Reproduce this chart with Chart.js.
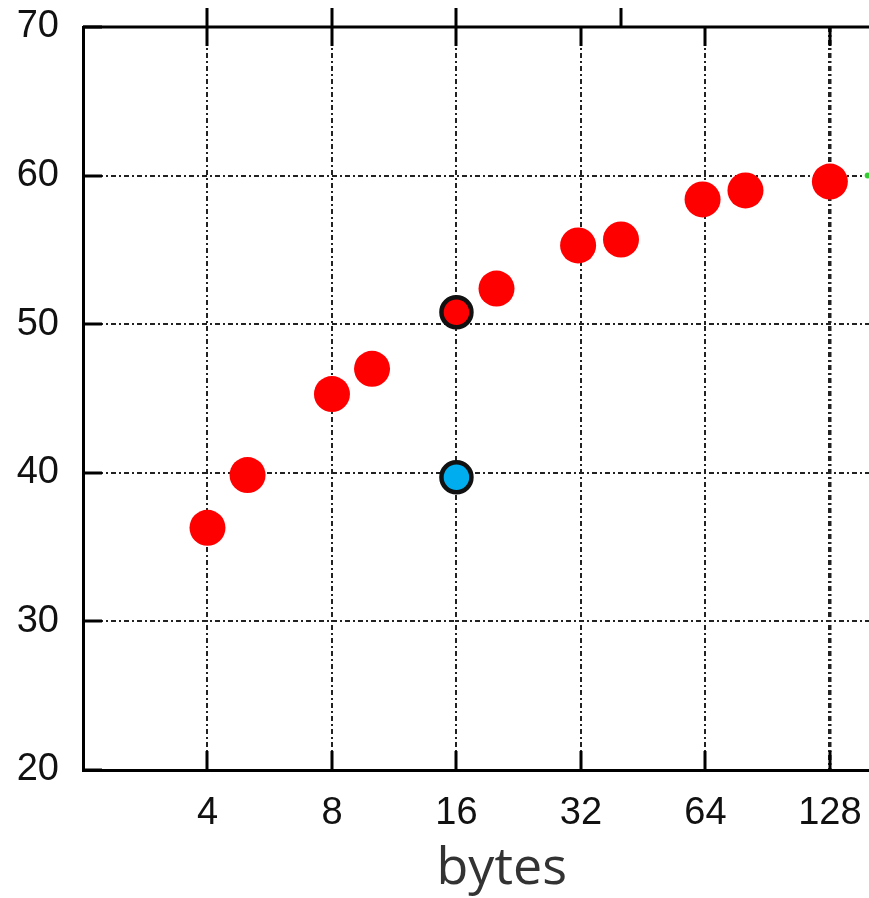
<!DOCTYPE html>
<html>
<head>
<meta charset="utf-8">
<script src="https://cdn.jsdelivr.net/npm/chart.js@4.4.1/dist/chart.umd.min.js"></script>
<style>
  html, body { margin: 0; padding: 0; background: #fff; overflow: hidden; }
  #wrap { width: 940px; height: 898px; }
</style>
</head>
<body>
<div id="wrap"><canvas id="c"></canvas></div>
<script>
// ---- data ----
const xTickValues = [4, 8, 16, 32, 64, 128];
const yTickValues = [20, 30, 40, 50, 60, 70];
const topOuterTicks = [4, 8, 16, 40];
const redX = [4, 5, 8, 10, 16, 20, 31.5, 40, 63, 80, 128];
const redY = [36.3, 39.85, 45.3, 47.0, 50.8, 52.4, 55.3, 55.7, 58.4, 59.0, 59.6];
const blueX = [16];
const blueY = [39.7];
const greenX = [158];
const greenY = [60];
const highlightX = [16];
const xTitle = 'bytes';

const toPts = (xs, ys) => xs.map((x, i) => ({ x: x, y: ys[i] }));

const frameTicks = {
  id: 'frameTicks',
  afterDraw(chart) {
    const { ctx, chartArea: a, scales: { x, y } } = chart;
    ctx.save();
    ctx.strokeStyle = '#000';
    ctx.lineWidth = 3;
    ctx.beginPath();
    ctx.moveTo(a.left, a.top);
    ctx.lineTo(a.right, a.top);
    ctx.stroke();
    const L = 19;
    xTickValues.forEach(v => {
      const px = Math.round(x.getPixelForValue(v));
      ctx.beginPath();
      ctx.moveTo(px, a.bottom); ctx.lineTo(px, a.bottom - L);
      ctx.moveTo(px, a.top); ctx.lineTo(px, a.top + L);
      ctx.stroke();
    });
    topOuterTicks.forEach(v => {
      const px = Math.round(x.getPixelForValue(v));
      ctx.beginPath();
      ctx.moveTo(px, a.top); ctx.lineTo(px, a.top - L);
      ctx.stroke();
    });
    yTickValues.forEach(v => {
      const py = Math.round(y.getPixelForValue(v));
      ctx.beginPath();
      ctx.moveTo(a.left, py); ctx.lineTo(a.left + L, py);
      ctx.stroke();
    });
    ctx.restore();
  }
};

new Chart(document.getElementById('c'), {
  type: 'scatter',
  data: {
    datasets: [
      {
        label: 'red',
        data: toPts(redX, redY),
        backgroundColor: '#ff0000',
        pointRadius: ctx => (highlightX.includes(ctx.raw && ctx.raw.x) ? 15 : 18),
        pointBorderWidth: ctx => (highlightX.includes(ctx.raw && ctx.raw.x) ? 4.5 : 0),
        pointBorderColor: '#111'
      },
      {
        label: 'blue',
        data: toPts(blueX, blueY),
        backgroundColor: '#00aeef',
        pointRadius: 15,
        pointBorderWidth: 4.5,
        pointBorderColor: '#111'
      },
      {
        label: 'green',
        data: toPts(greenX, greenY),
        backgroundColor: '#33cc33',
        pointRadius: 3,
        pointBorderWidth: 0
      }
    ]
  },
  options: {
    responsive: true,
    maintainAspectRatio: false,
    animation: false,
    events: [],
    layout: { padding: { left: 17, top: 27, right: 17, bottom: 0 } },
    plugins: { legend: { display: false }, tooltip: { enabled: false } },
    scales: {
      x: {
        type: 'logarithmic',
        min: 2,
        max: 212,
        afterBuildTicks: s => { s.ticks = xTickValues.map(v => ({ value: v })); },
        afterFit: s => { s.height = 128; s.paddingLeft = 0; s.paddingRight = 0; },
        ticks: {
          autoSkip: false,
          maxRotation: 0,
          padding: 21,
          color: '#111',
          font: { family: 'Liberation Sans', size: 38 },
          callback: v => String(v)
        },
        grid: {
          drawTicks: false,
          tickLength: 0,
          color: '#222',
          lineWidth: ctx => (ctx.tick && ctx.tick.value === 128 ? 3.5 : 2)
        },
        border: { display: true, color: '#000', width: 3, dash: [5, 3, 2, 3] },
        title: {
          display: true,
          text: xTitle,
          color: '#333',
          font: { family: 'Open Sans', size: 52 },
          padding: { top: 0, bottom: -2 }
        }
      },
      y: {
        min: 20,
        max: 70,
        afterBuildTicks: s => { s.ticks = yTickValues.map(v => ({ value: v })); },
        afterFit: s => { s.width = 66; s.paddingTop = 0; s.paddingBottom = 0; },
        ticks: {
          padding: 24,
          color: '#111',
          font: { family: 'Liberation Sans', size: 38 }
        },
        grid: {
          drawTicks: false,
          tickLength: 0,
          color: '#222',
          lineWidth: 2
        },
        border: { display: true, color: '#000', width: 3, dash: [5, 3, 2, 3] }
      }
    }
  },
  plugins: [frameTicks]
});
</script>
</body>
</html>
